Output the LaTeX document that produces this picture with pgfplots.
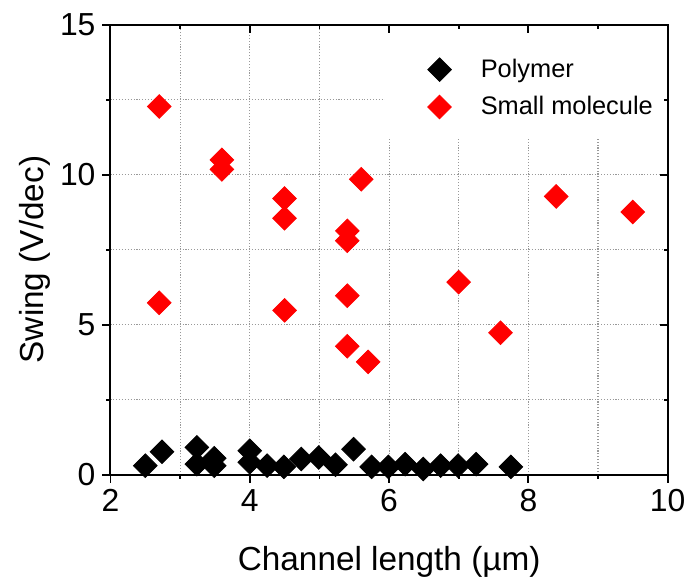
\documentclass[border=0pt]{standalone}
\usepackage{fontspec}
\setmainfont{Liberation Sans}
\usepackage{pgfplots}
\usepackage{pgfplotstable}
\pgfplotsset{compat=1.18}

% Subthreshold swing vs. channel length
\pgfplotstableread{
L     S
2.50  0.30
2.74  0.76
3.24  0.91
3.24  0.35
3.49  0.55
3.49  0.30
4.00  0.80
4.00  0.41
4.25  0.30
4.49  0.26
4.74  0.52
4.99  0.57
5.23  0.33
5.49  0.85
5.75  0.26
5.99  0.26
6.23  0.35
6.49  0.19
6.74  0.30
6.99  0.30
7.25  0.35
7.75  0.26
}\polymer

\pgfplotstableread{
L     S
2.70  12.28
3.60  10.50
3.60  10.18
5.60  9.85
4.50  9.21
4.50  8.55
5.40  8.13
5.40  7.80
8.40  9.28
9.50  8.76
2.70  5.73
4.50  5.48
5.40  5.97
7.00  6.42
5.40  4.28
5.70  3.76
7.60  4.73
}\smallmol

\pgfplotsset{
  frame/.style={
    scale only axis, width=280pt, height=226pt,
    xmin=2, xmax=10, ymin=0, ymax=15,
    xtick={2,4,6,8,10}, ytick={0,5,10,15},
    minor xtick={3,5,7,9}, minor ytick={2.5,7.5,12.5},
    major tick length=4pt, minor tick length=2pt,
    every tick/.style={line width=0.9pt, black},
    axis line style={line width=1pt},
  },
}

\begin{document}
\begin{tikzpicture}
\begin{axis}[
  frame, name=ax,
  xtick pos=left, ytick pos=left, tick align=outside,
  grid=both,
  major grid style={gray!80, line width=0.55pt, dash pattern=on 0.55pt off 0.9pt},
  minor grid style={gray!80, line width=0.55pt, dash pattern=on 0.55pt off 0.9pt},
  /pgf/number format/assume math mode=true,
  ticklabel style={font=\fontsize{16}{18}\selectfont},
  xlabel={Channel length (µm)},
  ylabel={Swing (V/dec)},
  every axis x label/.style={at={(axis description cs:0.216,-0.2124)}, anchor=base west,
    font=\fontsize{16.75}{20}\selectfont},
  every axis y label/.style={at={(axis description cs:-0.1196,0.232)}, anchor=base west,
    rotate=90, font=\fontsize{16.75}{20}\selectfont},
  legend style={draw=none, fill=none, at={(axis cs:6.457,14.14)}, anchor=north west,
    font=\fontsize{12.75}{15}\selectfont, row sep=4pt},
  legend cell align=left,
  legend image code/.code={\path (-6pt,0pt) (18.5pt,0pt); \draw[#1] plot coordinates {(0pt,0pt)};},
]
  % white panel behind the legend
  \fill[white] (axis cs:5.94,11.25) rectangle (axis cs:10,15);
  \addplot[only marks, mark=square*, mark size=4.2pt,
    mark options={rotate=45, fill=black, draw=black}] table[x=L, y=S] {\polymer};
  \addlegendentry{Polymer}
  \addplot[only marks, mark=square*, mark size=4.2pt,
    mark options={rotate=45, fill=red, draw=red}] table[x=L, y=S] {\smallmol};
  \addlegendentry{Small molecule}
\end{axis}
% mirrored frame: ticks pointing inward on top and right
\begin{axis}[
  frame,
  xtick pos=right, ytick pos=right, tick align=inside,
  xticklabels={}, yticklabels={},
]
\end{axis}
\path[use as bounding box] ([xshift=-55.5pt,yshift=-56.5pt]ax.south west)
  rectangle ([xshift=10.5pt,yshift=12.5pt]ax.north east);
\end{tikzpicture}
\end{document}
